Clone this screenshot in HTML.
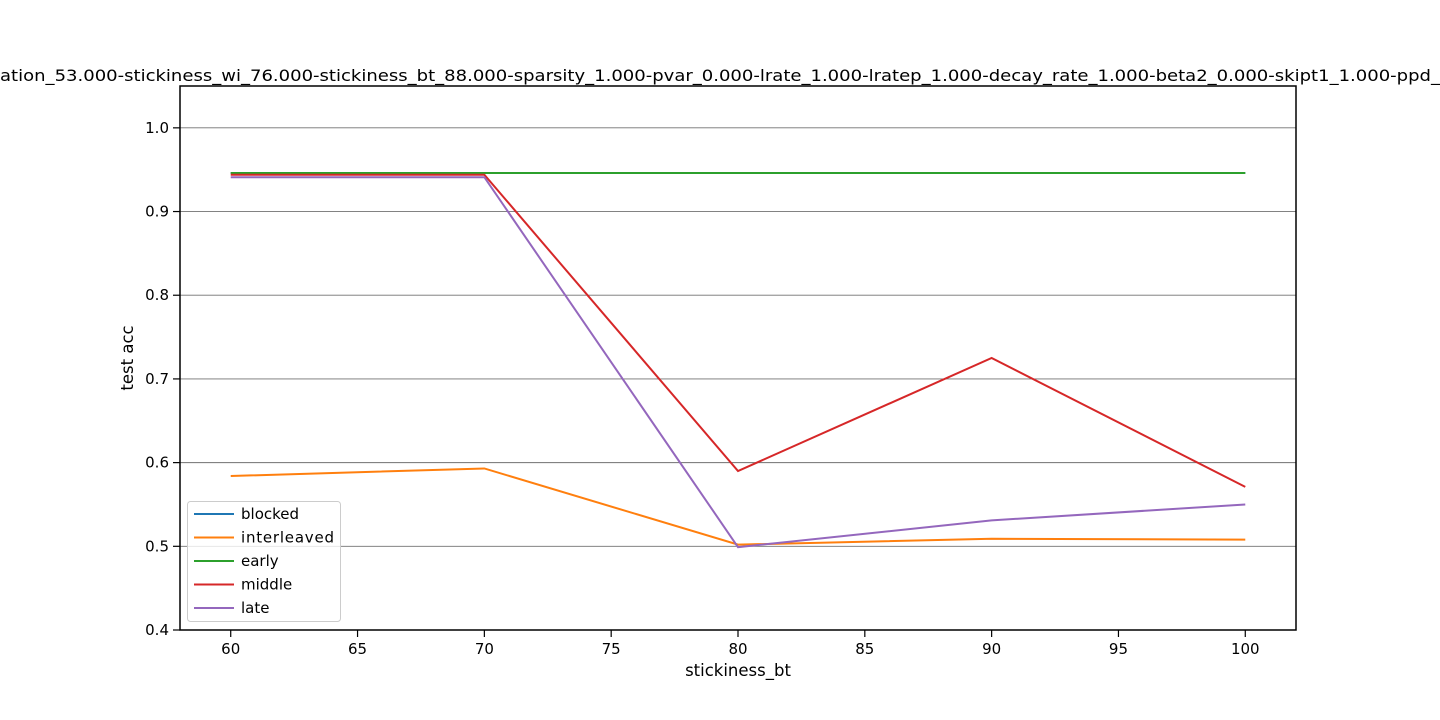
<!DOCTYPE html>
<html><head><meta charset="utf-8"><style>
body{margin:0;background:#fff;}
svg{display:block;font-family:"DejaVu Sans","Liberation Sans",sans-serif;}
</style></head><body>
<svg id="chart" width="1440" height="720">
<text x="0" y="81" font-size="16" textLength="1440" lengthAdjust="spacingAndGlyphs">ation_53.000-stickiness_wi_76.000-stickiness_bt_88.000-sparsity_1.000-pvar_0.000-lrate_1.000-lratep_1.000-decay_rate_1.000-beta2_0.000-skipt1_1.000-ppd_</text>
</svg>
<script>
const categories = [60, 70, 80, 90, 100];
const seriesNames = ["blocked", "interleaved", "early", "middle", "late"];
const blocked = [0.946, 0.946, 0.946, 0.946, 0.946];
const interleaved = [0.584, 0.593, 0.502, 0.509, 0.508];
const early = [0.946, 0.946, 0.946, 0.946, 0.946];
const middle = [0.944, 0.944, 0.590, 0.725, 0.571];
const late = [0.941, 0.941, 0.499, 0.531, 0.550];
const xTicks = [60, 65, 70, 75, 80, 85, 90, 95, 100];
const yTicks = [0.4, 0.5, 0.6, 0.7, 0.8, 0.9, 1.0];

const svg = document.getElementById('chart');
const NS = 'http://www.w3.org/2000/svg';
const L = 180, R = 1296, T = 86, B = 630;
const xMin = 58, xMax = 102, yMin = 0.4, yMax = 1.05;
const xs = v => L + (v - xMin) / (xMax - xMin) * (R - L);
const ys = v => B - (v - yMin) / (yMax - yMin) * (B - T);
function mk(tag, attrs, parent) {
  const e = document.createElementNS(NS, tag);
  for (const k in attrs) e.setAttribute(k, attrs[k]);
  (parent || svg).appendChild(e);
  return e;
}
yTicks.forEach(t => {
  const y = ys(t);
  if (t > yMin) {
    const g = mk('line', {x1: L, x2: R, y1: y, y2: y, stroke: '#707070', 'stroke-width': 0.9});
    
    
  }
  const tk = mk('line', {x1: L - 7, x2: L, y1: y, y2: y, stroke: '#000', 'stroke-width': 1.2});
  
  
  const lb = mk('text', {x: L - 11, y: y + 5, 'font-size': 15, 'text-anchor': 'end'});
  lb.textContent = t.toFixed(1);
  
  
});
xTicks.forEach(t => {
  const x = xs(t);
  const tk = mk('line', {x1: x, x2: x, y1: B, y2: B + 7, stroke: '#000', 'stroke-width': 1.2});
  
  
  const lb = mk('text', {x: x, y: B + 24, 'font-size': 15, 'text-anchor': 'middle'});
  lb.textContent = t;
  
  
});
const colors = ['#1f77b4', '#ff7f0e', '#2ca02c', '#d62728', '#9467bd'];
const data = [blocked, interleaved, early, middle, late];
data.forEach((vals, i) => {
  const p = mk('polyline', {points: vals.map((v, j) => xs(categories[j]) + ',' + ys(v)).join(' '), fill: 'none', stroke: colors[i], 'stroke-width': 2});
  
  
});
const frame = mk('rect', {x: L, y: T, width: R - L, height: B - T, fill: 'none', stroke: '#000', 'stroke-width': 1.5});


const xt = mk('text', {x: (L + R) / 2, y: 676, 'font-size': 16.5, 'text-anchor': 'middle'});
xt.textContent = 'stickiness_bt';


const yt = mk('text', {x: 133, y: (T + B) / 2, 'font-size': 16.5, 'text-anchor': 'middle', transform: 'rotate(-90 133 ' + (T + B) / 2 + ')'});
yt.textContent = 'test acc';


const lg = mk('g', {});


mk('rect', {x: 187.5, y: 501.5, width: 153, height: 120, rx: 3, fill: '#fff', 'fill-opacity': 0.8, stroke: '#ccc'}, lg);
seriesNames.forEach((n, i) => {
  const y = 514 + i * 23.5;
  const e = mk('g', {}, lg);
  
  
  mk('line', {x1: 194, x2: 234, y1: y, y2: y, stroke: colors[i], 'stroke-width': 2}, e);
  const t = mk('text', {x: 241, y: y + 5, 'font-size': 15, textLength: n === 'interleaved' ? 93 : null}, e);
  if (n !== 'interleaved') t.removeAttribute('textLength');
  t.textContent = n;
});
</script>
</body></html>
